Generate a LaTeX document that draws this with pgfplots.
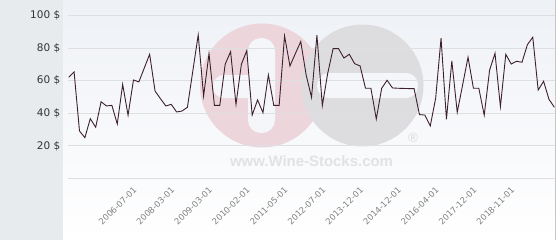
\documentclass[border=0pt]{standalone}
\usepackage{fontspec}
\setmainfont{DejaVu Sans}
\newfontfamily\wmfont{Liberation Sans}
\usepackage{pgfplots}
\pgfplotsset{compat=1.18}
\definecolor{panel}{RGB}{231,235,238}
\definecolor{bgtop}{RGB}{238,241,246}
\definecolor{pillc}{RGB}{244,246,250}
\definecolor{linec}{RGB}{62,32,44}
\definecolor{gridc}{RGB}{222,223,227}
\definecolor{wmpink}{RGB}{236,214,220}
\definecolor{wmgray}{RGB}{221,221,223}
\definecolor{wmtext}{RGB}{226,226,228}
\definecolor{ylabc}{RGB}{51,51,51}
\definecolor{xlabc}{RGB}{130,130,130}
\begin{document}
\begin{tikzpicture}[x=1bp,y=1bp]
\path[use as bounding box] (0,0) rectangle (560,240);
\fill[white] (0,0) rectangle (560,240);
\shade[top color=bgtop, bottom color=white] (63,0) rectangle (555,240);
\fill[panel] (0,0) rectangle (62.7,240);
% watermark
\fill[wmpink] (262,154.5) circle (62);
\fill[pillc, rounded corners=13] (248,107) rectangle (275,202);
\fill[pillc, rounded corners=11] (213,142) rectangle (270,165);
\fill[wmgray] (362.5,154.5) circle (61);
\fill[pillc, rounded corners=12] (317,142) rectangle (418,167);
\node[text=wmtext, font=\wmfont\bfseries\fontsize{15}{15}\selectfont, inner sep=0] at (311.5,79) {www.Wine-Stocks.com};
\node[text=wmgray, font=\fontsize{13}{13}\selectfont, inner sep=0] at (413,102) {®};
\draw[gray!45, line width=0.8] (555,0) -- (555,240);
\begin{axis}[
  at={(68bp,61.7bp)}, anchor=south west,
  width=487bp, height=178.3bp, scale only axis,
  xmin=-0.13, xmax=90.12, ymin=0, ymax=109.7,
  axis line style={draw=none},
  major tick length=0pt,
  ymajorgrids, grid style={gridc, line width=0.8bp},
  ytick={0,20,40,60,80,100},
  yticklabels={,20 \$,40 \$,60 \$,80 \$,100 \$},
  yticklabel style={font=\fontsize{10.5}{12}\selectfont, text=ylabc, xshift=-4.3bp},
  xtick={10,17,24,31,38,45,52,59,66,73,80},
  xticklabels={2006-07-01,2008-03-01,2009-03-01,2010-02-01,2011-05-01,2012-07-01,2013-12-01,2014-12-01,2016-04-01,2017-12-01,2018-11-01},
  xticklabel style={rotate=45, anchor=east, font=\fontsize{8.5}{10}\selectfont, text=xlabc, xshift=5bp, yshift=-16bp},
  /pgf/number format/assume math mode=true,
  clip=false,
]
\addplot[linec, line width=0.9bp, mark=none] coordinates {
(0,62.2) (1,65.4) (2,29.1) (3,25.0) (4,36.7) (5,31.4) (6,47.1) (7,44.5) (8,44.9) (9,33.4)
(10,57.8) (11,38.8) (12,60.5) (13,59.3) (14,67.8) (15,76.3) (16,53.7) (17,49.0) (18,44.5) (19,45.5)
(20,40.8) (21,41.4) (22,43.7) (23,66.0) (24,88.2) (25,50.6) (26,76.7) (27,44.9) (28,44.9) (29,70.2)
(30,77.9) (31,45.5) (32,70.2) (33,78.5) (34,38.9) (35,48.2) (36,40.4) (37,63.6) (38,44.9) (39,44.9)
(40,87.6) (41,69.1) (42,76.7) (43,84.1) (44,63.6) (45,49.8) (46,88.0) (47,44.7) (48,64.6) (49,79.8)
(50,79.8) (51,74.0) (52,76.3) (53,70.5) (54,69.1) (55,55.4) (56,55.4) (57,36.5) (58,55.4) (59,60.3)
(60,55.6) (61,55.4) (62,55.3) (63,55.2) (64,55.2) (65,39.2) (66,38.9) (67,32.2) (68,49.2) (69,86.2)
(70,36.3) (71,72.2) (72,40.6) (73,57.5) (74,74.5) (75,55.4) (76,55.4) (77,38.8) (78,66.6) (79,76.9)
(80,44.1) (81,76.3) (82,70.3) (83,72.0) (84,71.4) (85,82.2) (86,86.8) (87,54.3) (88,59.7) (89,48.6)
(90,43.7)
};
\end{axis}
\end{tikzpicture}
\end{document}
